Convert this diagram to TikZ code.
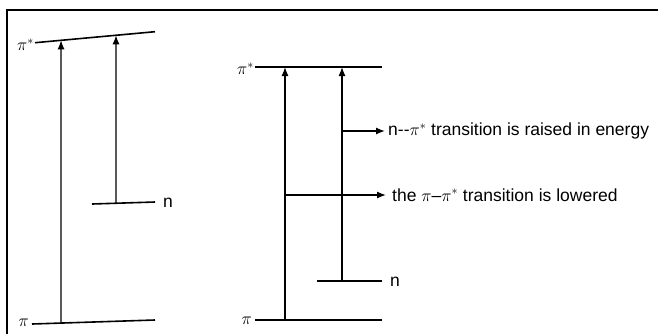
\documentclass[tikz,border=0pt]{standalone}
\usepackage{fontspec}
\setmainfont{Liberation Sans}
\usetikzlibrary{arrows.meta,calc}

\tikzset{
  level/.style={line width=1.6pt},
  trans/.style={line width=1.3pt,-{Latex[length=9pt,width=7pt]}},
  shift arrow/.style={line width=1.3pt,-{Latex[length=9pt,width=7pt]}},
  lbl/.style={inner sep=0pt,font=\fontsize{17.5}{21}\selectfont},
  sym/.style={inner sep=0pt,font=\fontsize{18}{21}\selectfont},
}

\begin{document}
\begin{tikzpicture}[x=1pt,y=-1pt]
  \clip (0,0) rectangle (658,333);
  \fill[white] (0,0) rectangle (658,333);
  % outer frame (only top and left edges fall inside the page)
  \draw[line width=2.2pt] (7,10) rectangle (670,345);

  % ---------- left diagram: unperturbed levels ----------
  \coordinate (Lps1) at (35,42.7);
  \coordinate (Lps2) at (155,31.7);
  \coordinate (Ln1) at (92,204);
  \coordinate (Ln2) at (155,202);
  \coordinate (Lp1) at (32,324);
  \coordinate (Lp2) at (155,320);
  \draw[level] (Lps1) -- (Lps2);
  \draw[level] (Ln1) -- (Ln2);
  \draw[level] (Lp1) -- (Lp2);
  \node[sym,anchor=east] (Lpslab) at ([xshift=-1pt,yshift=-2pt]Lps1) {$\pi^*$};
  \node[sym,anchor=east] (Lplab) at ([xshift=-3pt,yshift=1pt]Lp1) {$\pi$};
  \node[lbl,anchor=west] (Lnlab) at ([xshift=8pt,yshift=-1pt]Ln2) {n};
  \coordinate (La1) at ($(Lp1)!0.236!(Lp2)$);
  \coordinate (La1t) at ($(Lps1)!0.217!(Lps2)$);
  \coordinate (La2) at ($(Ln1)!0.38!(Ln2)$);
  \coordinate (La2t) at ($(Lps1)!0.675!(Lps2)$);
  \draw[trans] (La1) -- (La1t);
  \draw[trans] (La2) -- (La2t);

  % ---------- right diagram: levels in a polar solvent ----------
  \coordinate (Rps1) at (255,67);
  \coordinate (Rps2) at (382,67);
  \coordinate (Rn1) at (317,281);
  \coordinate (Rn2) at (382,281);
  \coordinate (Rp1) at (255,320);
  \coordinate (Rp2) at (382,320);
  \draw[level] (Rps1) -- (Rps2);
  \draw[level] (Rn1) -- (Rn2);
  \draw[level] (Rp1) -- (Rp2);
  \node[sym,anchor=east] (Rpslab) at ([xshift=-1pt,yshift=-2pt]Rps1) {$\pi^*$};
  \node[sym,anchor=east] (Rplab) at ([xshift=-3pt,yshift=-1pt]Rp1) {$\pi$};
  \node[lbl,anchor=west] (Rnlab) at ([xshift=8pt,yshift=-1pt]Rn2) {n};
  \coordinate (Ra1) at (285,320);
  \coordinate (Ra1t) at (285,67);
  \coordinate (Ra2) at (342,281);
  \coordinate (Ra2t) at (342,67);
  \draw[trans] (Ra1) -- (Ra1t);
  \draw[trans] (Ra2) -- (Ra2t);

  % annotations of the solvent shifts
  \coordinate (Hn) at (342,131);
  \coordinate (Hp) at (285,195);
  \node[lbl,anchor=west] (raised) at (388,131) {n-{}-$\pi^*$ transition is raised in energy};
  \node[lbl,anchor=west] (lowered) at (392,195) {the $\pi$--$\pi^*$ transition is lowered};
  \draw[shift arrow] (Hn) -- ([xshift=-3pt]raised.west);
  \draw[shift arrow] (Hp) -- ([xshift=-6pt]lowered.west);
\end{tikzpicture}
\end{document}
